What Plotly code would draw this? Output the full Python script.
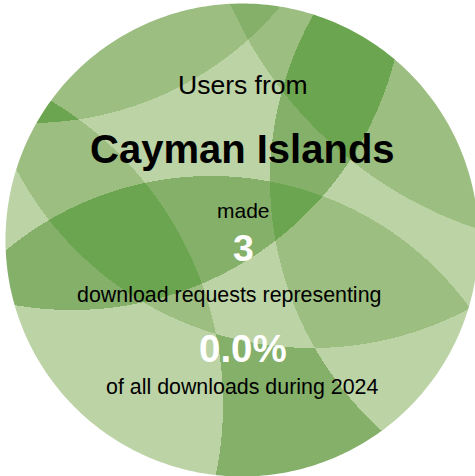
import numpy as np
import plotly.graph_objects as go

# ---- chart content (data) ----
country = "Cayman Islands"
request_count = 3
share_percent = 0.0
year = 2024

line_texts = [
    "Users from",
    country,
    "made",
    str(request_count),
    "download requests representing",
    f"{share_percent:.1f}%",
    f"of all downloads during {year}",
]

# ---- styling / layout constants ----
W, H = 475, 476
DISC_CX, DISC_CY, DISC_R = 242.0, 240.0, 236.5
SHADES = ["#bcd3a5", "#9cbe81", "#85b06a", "#6ca54f"]

# decorative overlapping circles (cx, cy, r) in pixel space
DECO_CIRCLES = [
    (30, -204, 327),
    (608, -163, 413),
    (607, 180, 337),
    (72, -23, 333),
    (211, 496, 320),
    (-130, 404, 353),
    (312, 14, 334),
]
# reference points giving the shade of each decorative region
DECO_SAMPLES = [
    (120, 50, 1), (255, 12, 2), (200, 110, 0), (290, 30, 1), (340, 60, 3),
    (440, 130, 1), (300, 140, 2), (420, 215, 0), (400, 270, 1), (440, 350, 0),
    (300, 420, 2), (120, 400, 0), (30, 270, 2), (120, 240, 3), (30, 200, 0),
    (60, 150, 1), (55, 110, 3), (230, 220, 2), (295, 215, 3), (180, 312, 1),
    (255, 280, 0),
]

# text placement: (x center, y center, size, bold, color)
TEXT_STYLE = [
    (242.5, 85.3, 26.5, False, "#000000"),
    (242.5, 149.2, 40, True, "#000000"),
    (243.0, 210.4, 21, False, "#000000"),
    (243.0, 247.7, 37.5, True, "#ffffff"),
    (229.0, 295.0, 21.4, False, "#000000"),
    (242.5, 348.5, 38.5, True, "#ffffff"),
    (242.0, 387.0, 21.4, False, "#000000"),
]

# ---- build decorative background ----
xs = np.arange(W) + 0.5
ys = np.arange(H) + 0.5
X, Y = np.meshgrid(xs, ys)


def signature(px, py):
    code = np.zeros(np.shape(px), dtype=int)
    for i, (cx, cy, r) in enumerate(DECO_CIRCLES):
        inside = (np.asarray(px) - cx) ** 2 + (np.asarray(py) - cy) ** 2 < r * r
        code = code + (inside.astype(int) << i)
    return code


codes = signature(X, Y)
samp = np.array(DECO_SAMPLES, dtype=float)
samp_codes = signature(samp[:, 0], samp[:, 1])
lookup = {}
for c, s in zip(samp_codes, samp[:, 2]):
    lookup.setdefault(int(c), int(s))

shade = np.full(codes.shape, -1, dtype=int)
for c, s in lookup.items():
    shade[codes == c] = s
missing = shade < 0
if missing.any():
    mx, my = X[missing], Y[missing]
    d = (mx[:, None] - samp[None, :, 0]) ** 2 + (my[:, None] - samp[None, :, 1]) ** 2
    shade[missing] = samp[np.argmin(d, axis=1), 2].astype(int)

z = shade.astype(float)
n = len(SHADES)
colorscale = []
for i, col in enumerate(SHADES):
    colorscale.append([i / n, col])
    colorscale.append([(i + 1) / n, col])

fig = go.Figure()
fig.add_trace(go.Heatmap(
    x=xs, y=ys, z=z, zmin=-0.5, zmax=n - 0.5,
    colorscale=colorscale, showscale=False, hoverinfo="skip",
))

# white mask outside the disc
t = np.linspace(0, 2 * np.pi, 361)
circ = " ".join(
    f"{'M' if i == 0 else 'L'} {DISC_CX + DISC_R * np.cos(a):.2f},{DISC_CY + DISC_R * np.sin(a):.2f}"
    for i, a in enumerate(t)
)
mask_path = f"M -20,-20 L {W + 20},-20 L {W + 20},{H + 20} L -20,{H + 20} Z {circ} Z"
fig.add_shape(type="path", path=mask_path, xref="x", yref="y",
              fillcolor="white", line=dict(width=0), layer="above")

for txt, (tx, ty, size, bold, color) in zip(line_texts, TEXT_STYLE):
    fig.add_annotation(
        x=tx, y=ty, xref="x", yref="y", text=txt, showarrow=False,
        xanchor="center", yanchor="middle",
        font=dict(family="Liberation Sans, Arial, sans-serif", size=size,
                  color=color, weight="bold" if bold else "normal"),
    )

fig.update_xaxes(range=[0, W], visible=False, fixedrange=True)
fig.update_yaxes(range=[H, 0], visible=False, fixedrange=True)
fig.update_layout(
    width=W, height=H, margin=dict(l=0, r=0, t=0, b=0),
    paper_bgcolor="white", plot_bgcolor="white", showlegend=False,
)

fig.write_html(
    "out.html",
    config={"displayModeBar": False},
    post_script="document.body.style.margin='0';document.body.style.overflow='hidden';",
)
